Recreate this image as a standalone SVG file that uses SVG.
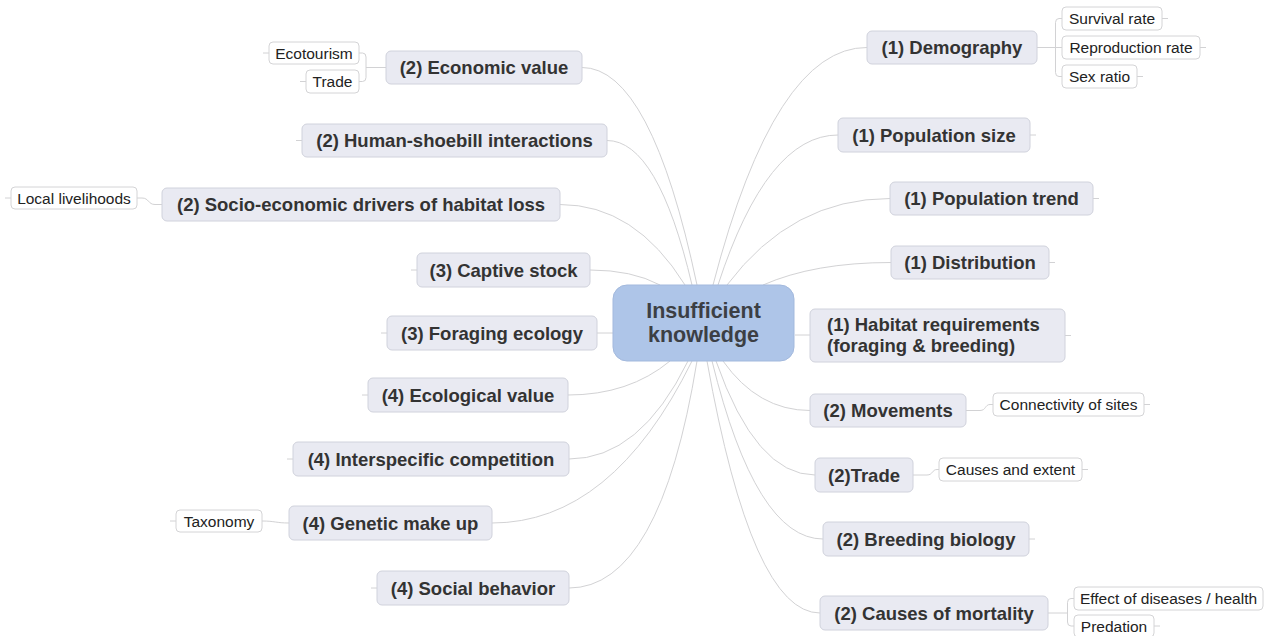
<svg xmlns="http://www.w3.org/2000/svg" width="1267" height="636" viewBox="0 0 1267 636">
<style>
.bg{fill:#ffffff}
.conn path{fill:none;stroke:#d2d2d4;stroke-width:1}
.main rect{fill:#e9eaf2;stroke:#d0d2dc;stroke-width:1}
.main text{font-family:"Liberation Sans",Arial,sans-serif;font-size:18.5px;font-weight:bold;fill:#333333;text-anchor:middle}
.leaf rect{fill:#ffffff;stroke:#d4d4d6;stroke-width:1}
.leaf text{font-family:"Liberation Sans",Arial,sans-serif;font-size:15.5px;fill:#222222;text-anchor:middle}
#center rect{fill:#aec5e8;stroke:#a3b9dd;stroke-width:1}
#center text{font-family:"Liberation Sans",Arial,sans-serif;font-size:21.5px;font-weight:bold;fill:#3c3f44;text-anchor:middle}
</style>
<rect class="bg" x="0" y="0" width="1267" height="636"/>
<g id="connectors" class="conn">
  <!-- right top -->
  <path d="M713,285 Q775,47 867,47.5"/>
  <path d="M718,285 Q767,135 838,135"/>
  <path d="M727,285 Q792,198.5 890,198.5"/>
  <path d="M763,285 Q814,262.5 891,262.5"/>
  <path d="M795,335 H810"/>
  <!-- right bottom -->
  <path d="M723,361 Q758,410.5 810,410.5"/>
  <path d="M716,361 Q756,475 815,475"/>
  <path d="M712,361 Q756,539 823,539"/>
  <path d="M707,361 Q752,613 820,613"/>
  <!-- left top -->
  <path d="M697,285 Q651,67.5 582,67.5"/>
  <path d="M692,285 Q658,140.5 607,140.5"/>
  <path d="M685,285 Q635,204.5 560,204.5"/>
  <path d="M660,285 Q632,270 590,270"/>
  <path d="M613,333 H597"/>
  <!-- left bottom -->
  <path d="M670,361 Q629,395 568,395"/>
  <path d="M688,361 Q640,459 569,459"/>
  <path d="M692,361 Q612,523 492,523"/>
  <path d="M697,361 Q660,588 569,588"/>
  <!-- children -->
  <path d="M1037,47.5 H1062"/>
  <path d="M1062,18.5 H1059 Q1055.5,18.5 1055.5,22.5 V72.5 Q1055.5,76.5 1059,76.5 H1062"/>
  <path d="M386,67.5 H366"/>
  <path d="M359,53 H362.5 Q366,53 366,57 V77.5 Q366,81.5 362.5,81.5 H359"/>
  <path d="M137,198 H142 C149,198 148,204.5 155,204.5 H162"/>
  <path d="M966,410.5 H980 C986,410.5 985,404.5 990,404.5 H993"/>
  <path d="M913,475 H927 C933,475 932,469.5 937,469.5 H939"/>
  <path d="M262,521 C275,521 276,523 289,523"/>
  <path d="M1048,613 H1067"/>
  <path d="M1074,598.5 H1071 Q1067.5,598.5 1067.5,602.5 V622 Q1067.5,626 1071,626 H1074"/>
  <!-- stubs -->
  <path d="M1030,135 H1036"/>
  <path d="M1093,198.5 H1099"/>
  <path d="M1049,262.5 H1055"/>
  <path d="M1065,335.5 H1071"/>
  <path d="M1029,539 H1035"/>
  <path d="M302,140.5 H296"/>
  <path d="M417,270 H411"/>
  <path d="M387,333 H381"/>
  <path d="M368,395 H362"/>
  <path d="M293,459 H287"/>
  <path d="M377,588 H371"/>
  <path d="M1162,18.5 H1168"/>
  <path d="M1200,47.5 H1206"/>
  <path d="M1137,76.5 H1143"/>
  <path d="M269,53 H263"/>
  <path d="M306,81.5 H300"/>
  <path d="M11,198 H5"/>
  <path d="M1144,404.5 H1150"/>
  <path d="M1082,469.5 H1088"/>
  <path d="M176,521 H170"/>
  <path d="M1154,626 H1160"/>
</g>
<g id="center"><rect x="613" y="285" width="181" height="76" rx="14"/><text x="703.5" y="318">Insufficient</text><text x="703.5" y="342">knowledge</text></g>
<g id="demography" class="main"><rect x="867" y="31" width="170" height="33" rx="5"/><text x="952" y="54">(1) Demography</text></g>
<g id="population-size" class="main"><rect x="838" y="118" width="192" height="34" rx="5"/><text x="934" y="141.5">(1) Population size</text></g>
<g id="population-trend" class="main"><rect x="890" y="182" width="203" height="33" rx="5"/><text x="991.5" y="205">(1) Population trend</text></g>
<g id="distribution" class="main"><rect x="891" y="246" width="158" height="33" rx="5"/><text x="970" y="269">(1) Distribution</text></g>
<g id="habitat" class="main"><rect x="810" y="309" width="255" height="53" rx="5"/><text x="827" y="331" style="text-anchor:start">(1) Habitat requirements</text><text x="827" y="352" style="text-anchor:start">(foraging &amp; breeding)</text></g>
<g id="movements" class="main"><rect x="810" y="394" width="156" height="33" rx="5"/><text x="888" y="417">(2) Movements</text></g>
<g id="trade" class="main"><rect x="815" y="458" width="98" height="34" rx="5"/><text x="864" y="481.5">(2)Trade</text></g>
<g id="breeding-biology" class="main"><rect x="823" y="522" width="206" height="34" rx="5"/><text x="926" y="545.5">(2) Breeding biology</text></g>
<g id="causes-of-mortality" class="main"><rect x="820" y="596" width="228" height="34" rx="5"/><text x="934" y="619.5">(2) Causes of mortality</text></g>
<g id="economic-value" class="main"><rect x="386" y="51" width="196" height="33" rx="5"/><text x="484" y="74">(2) Economic value</text></g>
<g id="human-shoebill" class="main"><rect x="302" y="124" width="305" height="33" rx="5"/><text x="454.5" y="147">(2) Human-shoebill interactions</text></g>
<g id="socio-economic" class="main"><rect x="162" y="188" width="398" height="33" rx="5"/><text x="361" y="211">(2) Socio-economic drivers of habitat loss</text></g>
<g id="captive-stock" class="main"><rect x="417" y="253" width="173" height="34" rx="5"/><text x="503.5" y="276.5">(3) Captive stock</text></g>
<g id="foraging-ecology" class="main"><rect x="387" y="316" width="210" height="34" rx="5"/><text x="492" y="339.5">(3) Foraging ecology</text></g>
<g id="ecological-value" class="main"><rect x="368" y="378" width="200" height="34" rx="5"/><text x="468" y="401.5">(4) Ecological value</text></g>
<g id="interspecific" class="main"><rect x="293" y="442" width="276" height="34" rx="5"/><text x="431" y="465.5">(4) Interspecific competition</text></g>
<g id="genetic" class="main"><rect x="289" y="506" width="203" height="34" rx="5"/><text x="390.5" y="529.5">(4) Genetic make up</text></g>
<g id="social" class="main"><rect x="377" y="571" width="192" height="34" rx="5"/><text x="473" y="594.5">(4) Social behavior</text></g>
<g id="survival-rate" class="leaf"><rect x="1062" y="7" width="100" height="23" rx="4"/><text x="1112" y="24">Survival rate</text></g>
<g id="reproduction-rate" class="leaf"><rect x="1062" y="36" width="138" height="23" rx="4"/><text x="1131" y="53">Reproduction rate</text></g>
<g id="sex-ratio" class="leaf"><rect x="1062" y="65" width="75" height="23" rx="4"/><text x="1099.5" y="82">Sex ratio</text></g>
<g id="ecotourism" class="leaf"><rect x="269" y="42" width="90" height="22" rx="4"/><text x="314" y="58.5">Ecotourism</text></g>
<g id="trade-leaf" class="leaf"><rect x="306" y="70" width="53" height="23" rx="4"/><text x="332.5" y="87">Trade</text></g>
<g id="local-livelihoods" class="leaf"><rect x="11" y="187" width="126" height="22" rx="4"/><text x="74" y="203.5">Local livelihoods</text></g>
<g id="connectivity" class="leaf"><rect x="993" y="393" width="151" height="23" rx="4"/><text x="1068.5" y="410">Connectivity of sites</text></g>
<g id="causes-extent" class="leaf"><rect x="939" y="458" width="143" height="23" rx="4"/><text x="1010.5" y="475">Causes and extent</text></g>
<g id="taxonomy" class="leaf"><rect x="176" y="510" width="86" height="22" rx="4"/><text x="219" y="526.5">Taxonomy</text></g>
<g id="effect-diseases" class="leaf"><rect x="1074" y="587" width="189" height="23" rx="4"/><text x="1168.5" y="604">Effect of diseases / health</text></g>
<g id="predation" class="leaf"><rect x="1074" y="615" width="80" height="22" rx="4"/><text x="1114" y="631.5">Predation</text></g>
</svg>
